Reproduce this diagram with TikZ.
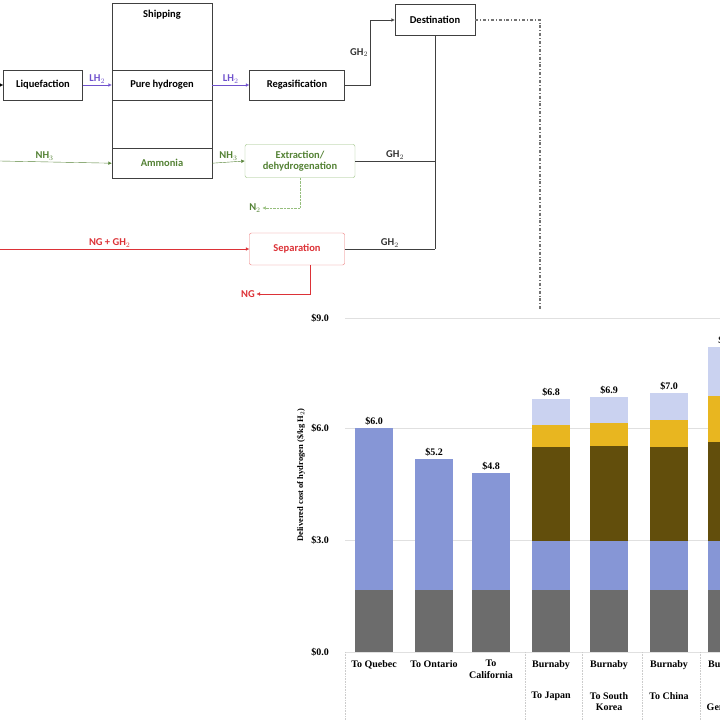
\documentclass[tikz,border=0pt]{standalone}
\usepackage{fontspec}
\setmainfont{Liberation Serif}
\newfontfamily\flowfont{Carlito}
\usepackage{tikz}
\usetikzlibrary{positioning,calc,arrows.meta}
\definecolor{lhpurple}{RGB}{112,82,205}
\definecolor{nhgreen}{RGB}{84,130,53}
\definecolor{nhlight}{RGB}{150,190,125}
\definecolor{ngred}{RGB}{220,50,55}
\definecolor{nglight}{RGB}{235,120,120}
\definecolor{cgray}{RGB}{108,108,108}
\definecolor{cblue}{RGB}{134,150,214}
\definecolor{colive}{RGB}{98,78,12}
\definecolor{cyellow}{RGB}{232,182,32}
\definecolor{clav}{RGB}{202,210,240}
\tikzset{
	>={Latex[length=3.5pt,width=3.5pt]}, line width=1.2pt,
	box/.style ={rectangle, draw=black!75, minimum height=30pt, inner sep=2pt, font=\flowfont\bfseries\fontsize{10.5}{11.5}\selectfont}, % process boxes of the chain
	lbl/.style ={inner sep=1.5pt, font=\flowfont\bfseries\fontsize{10.5}{11.5}\selectfont},
	lh/.style ={lhpurple, text=lhpurple},
	nh/.style ={nhgreen, text=nhgreen},
	ng/.style ={ngred, text=ngred},
	grid/.style ={black!12, line width=.6pt},
	sepline/.style ={black!20, line width=.6pt, densely dotted},
	chartlbl/.style ={inner sep=1pt, align=center, font=\bfseries\fontsize{10}{11.5}\selectfont}
}
\begin{document}
\begin{tikzpicture}[x=1pt,y=-1pt]
\useasboundingbox (0,0) rectangle (720,720);
\clip (0,0) rectangle (720,720);
% flow chain
\node[box, minimum width=100pt, minimum height=175pt, anchor=north] (ship) at (162,3) {};
\node[lbl, below=5pt of ship.north] (shiptitle) {Shipping};
\node[box, minimum width=100pt] (pure) at (162,85) {Pure hydrogen};
\node[box, minimum width=100pt, anchor=south, text=nhgreen] (ammonia) at (ship.south) {Ammonia};
\node[box, minimum width=79pt] (liq) at (43,85) {Liquefaction};
\node[box, minimum width=95pt] (regas) at (297,85) {Regasification};
\node[box, minimum width=80pt, minimum height=31pt] (dest) at (435,20) {Destination};
\node[box, draw=nhlight, text=nhgreen, rounded corners=2pt, minimum width=110pt, minimum height=33pt, align=center] (extr) at (300,161) {Extraction/\\dehydrogenation};
\node[box, draw=nglight, text=ngred, rounded corners=2pt, minimum width=95pt, minimum height=32pt] (sep) at (297,249) {Separation};
\node[lbl, text=nhgreen] (n2) at (255,208) {N$_2$};
\node[lbl, text=ngred] (ng) at (248,294) {NG};
\coordinate (liqin) at (0,85);
\coordinate (nh3in) at (0,161);
\coordinate (mixin) at (0,249);
\coordinate (j1) at (dest.south |- extr.east);
\coordinate (j2) at (dest.south |- sep.east);
\coordinate (chartin) at (540,311);
\draw[->] (liqin) -- (liq.west);
\draw[lh,->] (liq) -- node[lbl,above]{LH$_2$} (pure);
\draw[lh,->] (pure) -- node[lbl,above]{LH$_2$} (regas);
\draw[black!75,->] (regas.east) -- ++(25,0) |- node[lbl,pos=.25,left,text=black!80]{GH$_2$} (dest.west);
\draw[black!75] (dest.south) -- (j2);
\draw[black!75] (extr.east) -- node[lbl,above,text=black!80]{GH$_2$} (j1);
\draw[black!75] (sep.east) -- node[lbl,above,text=black!80]{GH$_2$} (j2);
\draw[nh,->] (nh3in) -- node[lbl,above,pos=.4]{NH$_3$} (ammonia.west);
\draw[nh,->] (ammonia.east) -- node[lbl,above]{NH$_3$} (extr.west);
\draw[nhlight,densely dotted,->] (extr.south) |- (n2.east);
\draw[ng,->] (mixin) -- node[lbl,above,pos=.44]{NG + GH$_2$} (sep.west);
\draw[ng,->] ($(sep.south)+(13,0)$) |- (ng.east);
\draw[black!55, line width=1.4pt, dash pattern=on 3pt off 2pt on .8pt off 2pt] (dest.east) -| (chartin);
% cost chart
\foreach \yy/\lab in {652/0.0, 540/3.0, 428/6.0, 318/9.0}{
	\draw[grid] (345,\yy) -- (720,\yy);
	\node[chartlbl] at (320,\yy) {\$\lab};
}
\node[chartlbl, rotate=90, font=\bfseries\fontsize{8.5}{10}\selectfont] (ylab) at (301,475) {Delivered cost of hydrogen (\$/kg H$_2$)};
\foreach \xx in {345,525,582,642,700} \draw[sepline] (\xx,652) -- (\xx,720);
\foreach \xl in {355,415,472,532,590,650,708} \fill[cgray] (\xl,590) rectangle (\xl+38,652);
\foreach \xl/\tp in {355/428,415/459,472/473,532/541,590/541,650/541,708/541} \fill[cblue] (\xl,\tp) rectangle (\xl+38,590);
\foreach \xl/\tp in {532/447,590/446,650/447,708/442} \fill[colive] (\xl,\tp) rectangle (\xl+38,541);
\foreach \xl/\tp/\bt in {532/425/447,590/423/446,650/420/447,708/396/442} \fill[cyellow] (\xl,\tp) rectangle (\xl+38,\bt);
\foreach \xl/\tp/\bt in {532/399/425,590/397/423,650/393/420,708/347/396} \fill[clav] (\xl,\tp) rectangle (\xl+38,\bt);
\foreach \xl/\tp/\val in {355/428/6.0,415/459/5.2,472/473/4.8,532/399/6.8,590/397/6.9,650/393/7.0,708/347/8.2}
	\node[chartlbl, above=2pt] at (\xl+19,\tp) {\$\val};
\foreach \xc/\txt in {374/To Quebec,434/To Ontario,491/To\\California,551/Burnaby,609/Burnaby,669/Burnaby,727/Burnaby}
	\node[chartlbl, anchor=north] at (\xc,659) {\txt};
\foreach \xc/\txt in {551/To Japan,609/To South\\Korea,669/To China,727/To\\Germany}
	\node[chartlbl, anchor=north] at (\xc,691) {\txt};
\end{tikzpicture}
\end{document}
